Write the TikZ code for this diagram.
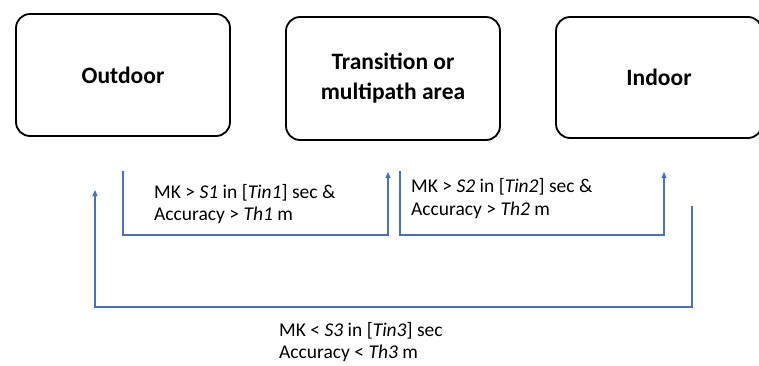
\documentclass[tikz,border=0pt]{standalone}
\usepackage{fontspec}
\setmainfont{Carlito}
\usetikzlibrary{arrows.meta}
\definecolor{flowblue}{HTML}{4472C4}

\begin{document}
\begin{tikzpicture}[x=1pt, y=-1pt,
    area/.style={draw, line width=1.8pt, rounded corners=14pt, inner sep=0pt, align=center,
        font=\fontsize{23.5}{30}\selectfont\bfseries},
    flow/.style={flowblue, line width=1.1pt, -{Triangle[length=6pt,width=5pt]}},
    cond/.style={anchor=west, align=left, inner sep=0pt, font=\fontsize{19.5}{22.5}\selectfont}]
        \useasboundingbox (0,0) rectangle (759,365);

        \node[area, minimum width=214pt, minimum height=122pt] (out) at (123,75) {Outdoor};
        \node[area, minimum width=214pt, minimum height=123pt] (trans) at (393,78.5) {Transition or\\multipath area};
        \node[area, minimum width=206pt, minimum height=121pt] (in) at (659,77.5) {Indoor};

        \coordinate (s1) at (123,171);
        \coordinate (e1) at (388,172);
        \coordinate (s2) at (400,171);
        \coordinate (e2) at (664,172);
        \coordinate (s3) at (692,206);
        \coordinate (e3) at (95,190);

        \draw[flow] (s1) -- (123,235) -| (e1);
        \draw[flow] (s2) -- (400,235) -| (e2);
        \draw[flow] (s3) -- (692,307) -| (e3);

        \node[cond] (c1) at (154,204) {MK > \textit{S1} in [\textit{Tin1}] sec \&\\Accuracy > \textit{Th1} m};
        \node[cond] (c2) at (411,198.5) {MK > \textit{S2} in [\textit{Tin2}] sec \&\\Accuracy > \textit{Th2} m};
        \node[cond] (c3) at (279,342) {MK < \textit{S3} in [\textit{Tin3}] sec\\Accuracy < \textit{Th3} m};
\end{tikzpicture}
\end{document}
